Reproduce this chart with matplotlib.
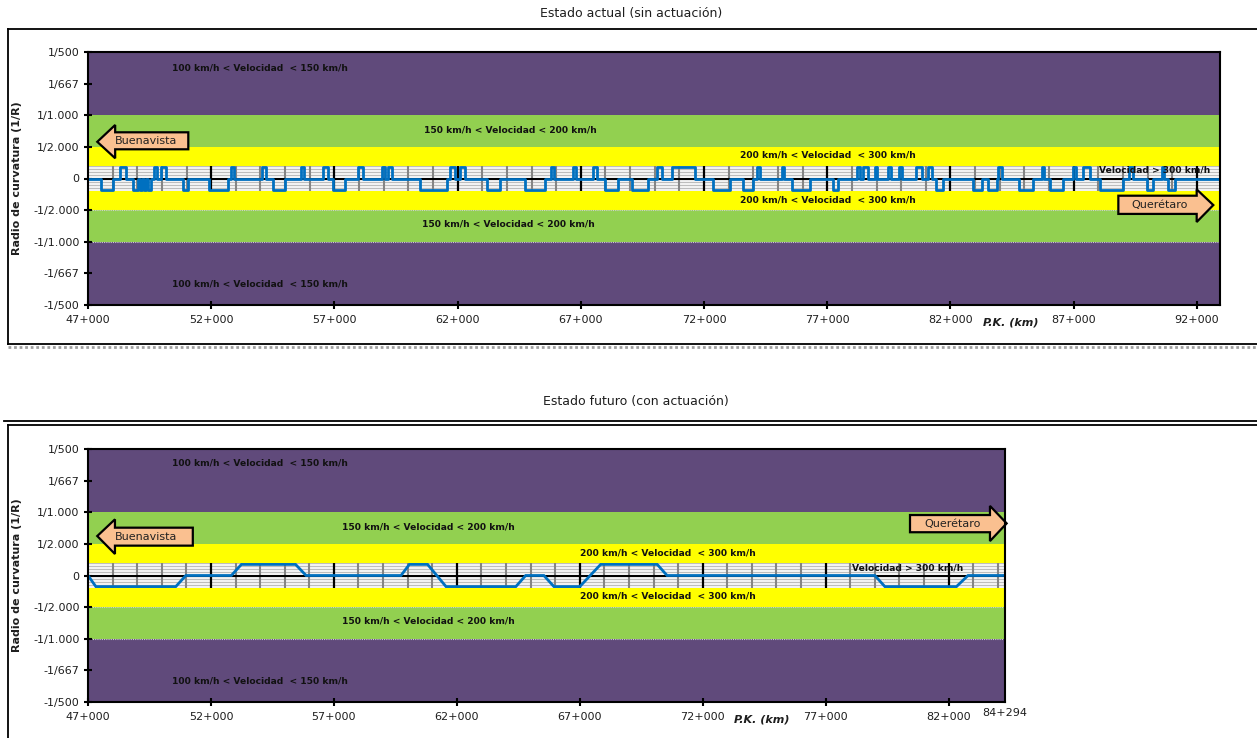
import matplotlib
matplotlib.use("Agg")
import matplotlib.pyplot as plt
from matplotlib.patches import Polygon
from matplotlib.lines import Line2D
import numpy as np

# ---------------------------------------------------------------------------
# Datos
# ---------------------------------------------------------------------------
# Estado actual: P.K. (km) donde cambia la alineación y radio a partir de ese
# punto (m, con signo; 0 = recta)
pk_actual = [
    47.00, 47.53, 48.01, 48.30, 48.54, 48.83, 49.03, 49.11, 49.19, 49.27,
    49.35, 49.44, 49.56, 49.68, 49.80, 49.96, 50.17, 50.86, 51.06, 51.91,
    52.68, 52.80, 52.93, 54.06, 54.22, 54.51, 55.00, 55.64, 55.77, 56.54,
    56.74, 56.94, 57.43, 57.96, 58.16, 58.93, 59.05, 59.17, 59.34, 60.47,
    61.57, 61.69, 61.89, 62.10, 62.30, 63.18, 63.72, 64.74, 65.55, 65.79,
    65.91, 66.67, 66.80, 67.51, 67.67, 67.98, 68.52, 69.07, 69.74, 70.08,
    70.28, 70.69, 71.63, 72.38, 73.05, 73.60, 74.00, 74.14, 74.27, 75.15,
    75.25, 75.56, 76.30, 77.25, 77.45, 78.19, 78.33, 78.47, 78.67, 78.94,
    79.04, 79.48, 79.58, 79.93, 80.02, 80.60, 80.83, 81.10, 81.24, 81.41,
    81.68, 82.90, 83.27, 83.54, 83.87, 83.94, 84.08, 84.79, 85.36, 85.70,
    85.79, 86.04, 86.58, 86.98, 87.09, 87.36, 87.66, 88.09, 89.01, 89.25,
    89.39, 89.96, 90.23, 90.57, 90.66, 90.84, 91.11, 92.94,
]
radio_actual = [
    0, -5300, 0, 5300, 0, -5300, 0, -5300, 0, -5300,
    0, -5300, 0, 5300, 0, 5300, 0, -5300, 0, -5300,
    0, 5300, 0, 5300, 0, -5300, 0, 5300, 0, 5300,
    0, -5300, 0, 5300, 0, 5300, 0, 5300, 0, -5300,
    0, 5300, 0, 5300, 0, -5300, 0, -5300, 0, 5300,
    0, 5300, 0, 5300, 0, -5300, 0, -5300, 0, 5300,
    0, 5300, 0, -5300, 0, -5300, 0, 5300, 0, 5300,
    0, -5300, 0, -5300, 0, 5300, 0, 5300, 0, 5300,
    0, 5300, 0, 5300, 0, 5300, 0, 5300, 0, -5300,
    0, -5300, 0, -5300, 0, 5300, 0, -5300, 0, 5300,
    0, -5300, 0, 5300, 0, 5300, 0, -5300, 0, 5300,
    0, -5300, 0, 5300, 0, -5300, 0, 0,
]

# Estado futuro: vértices del diagrama de curvaturas (con transiciones)
pk_futuro = [47.00, 47.32, 50.57, 50.98, 52.83, 53.24, 55.44, 55.87, 59.73,
             60.07, 60.81, 61.56, 64.40, 64.80, 65.54, 65.95, 67.00, 67.85,
             70.15, 70.55, 79.00, 79.41, 82.32, 82.79, 84.294]
radio_futuro = [0, -5700, -5700, 0, 0, 5700, 5700, 0, 0,
                5700, 5700, -5700, -5700, 0, 0, -5700, -5700, 5700,
                5700, 0, 0, -5700, -5700, 0, 0]

# Ejes
ticks_y = [0.002, 0.0015, 0.001, 0.0005, 0.0, -0.0005, -0.001, -0.0015, -0.002]
labels_y = ["1/500", "1/667", "1/1.000", "1/2.000", "0",
            "-1/2.000", "-1/1.000", "-1/667", "-1/500"]
ticks_pk_actual = [47, 52, 57, 62, 67, 72, 77, 82, 87, 92]
ticks_pk_futuro = [47, 52, 57, 62, 67, 72, 77, 82]
pk_fin_actual = 92.94
pk_fin_futuro = 84.294
etiqueta_fin_futuro = "84+294"

# Umbrales de curvatura (1/R) de las franjas de velocidad
lim_300 = 1 / 5000
lim_200 = 1 / 2000
lim_150 = 1 / 1000
lim_100 = 1 / 500

txt_100 = "100 km/h < Velocidad  < 150 km/h"
txt_150 = "150 km/h < Velocidad < 200 km/h"
txt_200 = "200 km/h < Velocidad  < 300 km/h"
txt_300 = "Velocidad > 300 km/h"

# ---------------------------------------------------------------------------
PURPLE = "#604A7B"
GREEN = "#92D050"
YELLOW = "#FFFF00"
BLUE = "#0070C0"
PEACH = "#FAC090"
INK = "#1e1e1e"

W, H = 1257, 738
fig = plt.figure(figsize=(W / 100, H / 100), dpi=100)


def fx(px):
    return px / W


def fy(py):
    return 1 - py / H


def curvatura(radios):
    return np.array([1.0 / r if r else 0.0 for r in radios])


def fmt_pk(km):
    return f"{int(km)}+000"


def panel(ax, x_end, ticks_km):
    ax.set_xlim(47, x_end)
    ax.set_ylim(-lim_100, lim_100)
    ax.set_facecolor("white")

    # franjas de velocidad
    for lo, hi, col in [(lim_150, lim_100, PURPLE), (lim_200, lim_150, GREEN),
                        (lim_300, lim_200, YELLOW)]:
        ax.axhspan(lo, hi, color=col, lw=0, zorder=1)
        ax.axhspan(-hi, -lo, color=col, lw=0, zorder=1)
    for v in (-lim_200, -lim_150):
        ax.axhline(v, color="#d0d0d0", lw=0.8, ls=(0, (1, 1)), zorder=1.2)

    # cuadrícula dentro de la franja > 300 km/h
    for v in np.arange(-4, 5) * 0.00005:
        ax.axhline(v, color="#bdbdbd", lw=1.0, zorder=0.5)
    km_all = np.arange(48, x_end + 1e-9, 1.0)
    minor = [k for k in km_all if (k - 47) % 5]
    major = [k for k in km_all if (k - 47) % 5 == 0]
    ax.vlines(minor, -lim_300, lim_300, colors="#858585", lw=1.5, zorder=0.6)
    ax.vlines(major, -lim_300, lim_300, colors="black", lw=1.6, zorder=0.7)
    ax.axhline(0, color="black", lw=1.5, zorder=0.8)

    ax.set_xticks(ticks_km)
    ax.set_xticklabels([fmt_pk(k) for k in ticks_km])
    ax.set_yticks(ticks_y)
    ax.set_yticklabels(labels_y)
    ax.tick_params(axis="both", direction="inout", length=6, width=1.5,
                   labelsize=8, colors="black", labelcolor=INK)
    ax.tick_params(axis="x", pad=4)
    ax.tick_params(axis="y", pad=3)
    for s in ax.spines.values():
        s.set_linewidth(1.5)
        s.set_color("black")
        s.set_zorder(6)


def banda_textos(ax, pos):
    kw = dict(transform=ax.transAxes, fontsize=6.6, fontweight="bold",
              ha="center", va="center", color="#111111", zorder=4)
    for txt, (x, y) in pos:
        ax.text(x, y, txt, **kw)


def flecha(ax, tip, head_x, head_y, body_x, body_y, texto, cx):
    tx, ty = tip
    hy0, hy1 = head_y
    bx0, bx1 = body_x
    by0, by1 = body_y
    if tx < head_x:  # hacia la izquierda
        pts = [(tx, ty), (head_x, hy1), (head_x, by1), (bx1, by1),
               (bx1, by0), (head_x, by0), (head_x, hy0)]
    else:
        pts = [(tx, ty), (head_x, hy0), (head_x, by0), (bx0, by0),
               (bx0, by1), (head_x, by1), (head_x, hy1)]
    poly = Polygon(pts, closed=True, transform=ax.transAxes, facecolor=PEACH,
                   edgecolor="black", lw=1.6, zorder=5, clip_on=False)
    ax.add_patch(poly)
    ax.text(cx, (by0 + by1) / 2, texto, transform=ax.transAxes, fontsize=8,
            ha="center", va="center", color="#222222", zorder=6)


# ---------------------------------------------------------------------------
# Estado actual
ax1 = fig.add_axes([fx(88), fy(305), fx(1220) - fx(88), fy(52) - fy(305)])
panel(ax1, pk_fin_actual, ticks_pk_actual)
ax1.step(pk_actual, curvatura(radio_actual), where="post", color=BLUE,
         lw=2.0, zorder=3)
banda_textos(ax1, [(txt_100, (0.152, 0.937)), (txt_100, (0.152, 0.083)),
                   (txt_150, (0.373, 0.692)), (txt_150, (0.371, 0.320)),
                   (txt_200, (0.654, 0.593)), (txt_200, (0.654, 0.415)),
                   (txt_300, (0.942, 0.534))])
flecha(ax1, (0.0082, 0.645), 0.024, (0.580, 0.7115), (0.024, 0.0886),
       (0.6154, 0.6826), "Buenavista", 0.0517)
flecha(ax1, (0.9941, 0.395), 0.9794, (0.328, 0.457), (0.9102, 0.9794),
       (0.360, 0.432), "Querétaro", 0.947)

# Estado futuro
ax2 = fig.add_axes([fx(88), fy(702), fx(1005) - fx(88), fy(449) - fy(702)])
panel(ax2, pk_fin_futuro, ticks_pk_futuro)
ax2.plot(pk_futuro, curvatura(radio_futuro), color=BLUE, lw=2.0, zorder=3,
         solid_joinstyle="miter")
ax2.text(pk_fin_futuro, -lim_100 - 0.00018, etiqueta_fin_futuro, ha="center",
         va="center", fontsize=8, color=INK)
banda_textos(ax2, [(txt_100, (0.1876, 0.945)), (txt_100, (0.1876, 0.083)),
                   (txt_150, (0.371, 0.692)), (txt_150, (0.371, 0.320)),
                   (txt_200, (0.6325, 0.589)), (txt_200, (0.6325, 0.419)),
                   (txt_300, (0.894, 0.530))])
flecha(ax2, (0.0101, 0.656), 0.0294, (0.585, 0.722), (0.0294, 0.1143),
       (0.618, 0.689), "Buenavista", 0.0638)
flecha(ax2, (1.0018, 0.706), 0.9836, (0.636, 0.775), (0.8964, 0.9836),
       (0.671, 0.739), "Querétaro", 0.943)

# Títulos y rótulos de ejes
fig.text(fx(631), fy(13), "Estado actual (sin actuación)", ha="center",
         va="center", fontsize=9, color=INK)
fig.text(fx(636), fy(401), "Estado futuro (con actuación)", ha="center",
         va="center", fontsize=9, color=INK)
for yc in (178, 575):
    fig.text(fx(17), fy(yc), "Radio de curvatura (1/R)", rotation=90,
             ha="center", va="center", fontsize=8, fontweight="bold",
             color=INK)
fig.text(fx(1011), fy(322), "P.K. (km)", ha="center", va="center",
         fontsize=8, fontweight="bold", style="italic", color=INK)
fig.text(fx(762), fy(720), "P.K. (km)", ha="center", va="center",
         fontsize=8, fontweight="bold", style="italic", color=INK)

# Marcos de los gráficos
def linea(xs, ys, **kw):
    fig.add_artist(Line2D([fx(x) for x in xs], [fy(y) for y in ys], **kw))


linea([8, W], [29, 29], color="black", lw=1.3)
linea([8, 8], [29, 344], color="black", lw=1.3)
linea([8, W], [344, 344], color="black", lw=1.3)
linea([8, W], [347.5, 347.5], color="#a0a0a0", lw=2.0, ls=(0, (1, 1)))
linea([4, W], [421, 421], color="black", lw=1.3)
linea([8, W], [425, 425], color="black", lw=1.3)
linea([8, 8], [425, H], color="black", lw=1.3)

fig.savefig("out.png", dpi=100)
